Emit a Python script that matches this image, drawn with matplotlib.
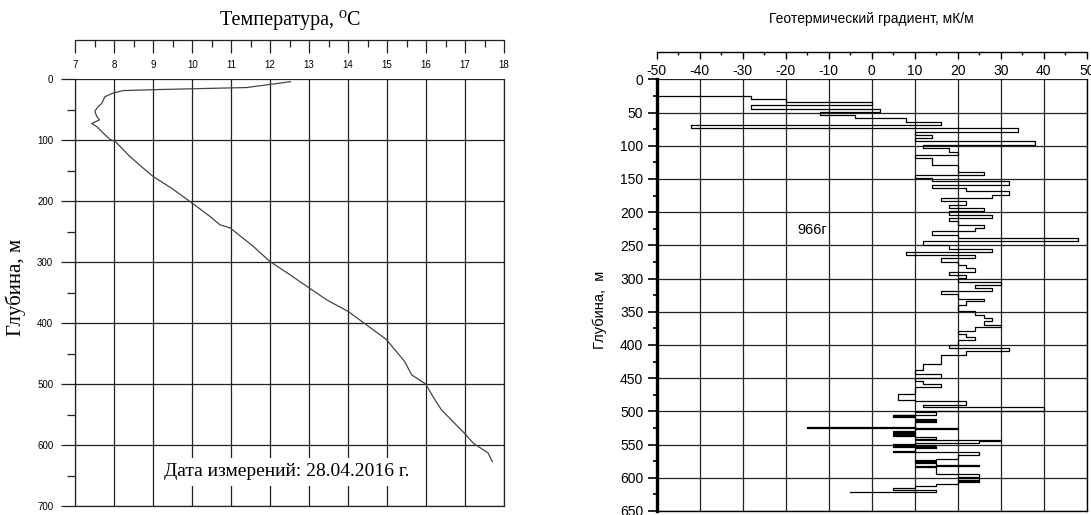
import numpy as np
import matplotlib
matplotlib.use("Agg")
import matplotlib.pyplot as plt
from matplotlib.ticker import MultipleLocator

plt.rcParams['axes.unicode_minus'] = False

# ---------------- data ----------------
# Temperature profile (left chart)
temp_depth = [4.4, 9, 14, 16, 17.5, 19, 23, 29, 40, 45, 53, 61, 67, 73, 78, 89, 99, 102,
              127, 146, 160, 179, 204, 225, 239, 244, 274, 299, 321, 332, 362, 381, 403,
              427, 463, 485, 500, 521, 542, 559, 581, 597, 613, 627]
temp_value = [12.52, 11.99, 11.39, 10.03, 9.0, 8.23, 7.97, 7.76, 7.68, 7.59, 7.50, 7.55, 7.62,
              7.42, 7.55, 7.72, 7.89, 8.02, 8.40, 8.74, 9.0, 9.47, 10.01, 10.45, 10.71, 10.97,
              11.56, 11.99, 12.51, 12.76, 13.45, 14.0, 14.47, 14.98, 15.45, 15.63, 15.99,
              16.18, 16.39, 16.65, 16.99, 17.21, 17.59, 17.70]

# Geothermal gradient (right chart): interval top depths, values, final bottom depth
grad_top = [0, 24.5, 29, 33.5, 38, 44.5, 48.5, 53.5, 59, 64.5,
            68.5, 73.5, 79, 84, 88.5, 93.5, 99, 103.5, 109, 113.5,
            118.5, 128.5, 139, 143.5, 149, 153.5, 159, 164, 168.5, 174,
            179, 183.5, 189, 193.5, 199, 204, 208.5, 214, 219.5, 224.5,
            228.5, 234, 239.5, 244, 249, 255, 259.5, 264.5, 269.5, 274.5,
            279.5, 284.5, 289.5, 294.5, 299.5, 304.5, 309.5, 314.5, 318.5, 323.5,
            330.5, 334.5, 339.5, 349.5, 354.5, 359.5, 364.5, 369.5, 373.5, 378.5,
            383.5, 388.5, 393, 399.5, 404.5, 409.5, 414.5, 429, 437.5, 444,
            449, 454, 459, 464, 474, 483, 485, 490, 494, 499,
            501.5, 505, 506, 507.5, 509, 511, 512.5, 514.5, 516, 523.5,
            524.5, 527, 529, 530.5, 532.5, 534, 536, 537.5, 539, 541,
            543.5, 545, 547, 548.5, 550, 551.5, 553, 554.5, 559, 560.5,
            565, 571, 573, 574.5, 576, 578, 580, 582, 584.5, 595,
            599, 601, 603, 605, 607, 610, 613, 616, 618, 621.5]
grad_value = [-50, -28, -20, 0, -28, 2, -12, -4, 8, 16,
              -42, 34, 10, 14, 10, 38, 12, 18, 20, 10,
              14, 20, 26, 10, 14, 32, 14, 22, 32, 28,
              16, 22, 18, 26, 18, 28, 18, 20, 26, 24,
              14, 20, 48, 12, 18, 28, 8, 24, 16, 20,
              22, 24, 18, 22, 20, 30, 24, 28, 16, 20,
              26, 22, 20, 24, 26, 28, 26, 30, 24, 20,
              22, 24, 20, 18, 32, 22, 16, 12, 10, 16,
              10, 12, 16, 10, 6, 10, 22, 12, 40, 10,
              15, 5, 10, 5, 10, 15, 10, 15, 10, -15,
              20, 10, 5, 10, 5, 10, 5, 10, 15, 10,
              30, 25, 10, 5, 15, 5, 15, 10, 5, 25,
              20, 15, 10, 15, 10, 15, 25, 10, 15, 25,
              20, 25, 20, 25, 20, 15, 10, 5, 15, -5]
grad_bottom = 622

temp_ticks = list(range(7, 19))
depth_ticks_left = list(range(0, 701, 100))
grad_ticks = list(range(-50, 51, 10))
depth_ticks_right = list(range(0, 651, 50))

# ---------------- figure ----------------
W, H = 1091, 515
fig = plt.figure(figsize=(W / 100, H / 100), dpi=100)

def rect(l, t, r, b):
    return [l / W, 1 - b / H, (r - l) / W, (b - t) / H]

SANS = ['Liberation Sans', 'DejaVu Sans']
SERIF = ['Liberation Serif', 'DejaVu Serif']
PX = 0.72  # points per pixel

# ---- left chart ----
ax1 = fig.add_axes(rect(75.3, 79, 504, 506))
ax1.plot(temp_value, temp_depth, color='#444444', lw=0.9)
ax1.set_xlim(7, 18)
ax1.set_ylim(700, 0)
ax1.set_xticks(temp_ticks)
ax1.xaxis.set_minor_locator(MultipleLocator(0.5))
ax1.set_yticks(depth_ticks_left)
ax1.yaxis.set_minor_locator(MultipleLocator(50))
ax1.xaxis.set_ticks_position('top')
ax1.spines['top'].set_position(('outward', 39 * PX))
for s in ax1.spines.values():
    s.set_color('#222222')
    s.set_linewidth(0.9)
ax1.tick_params(axis='x', which='major', direction='in', length=13 * PX, width=0.9,
                color='#222222', pad=-30 * PX, labelsize=7, top=True, bottom=False,
                labeltop=True, labelbottom=False)
ax1.tick_params(axis='x', which='minor', direction='in', length=7 * PX, width=0.9,
                color='#222222', top=True, bottom=False)
ax1.tick_params(axis='y', which='major', direction='out', length=14 * PX, width=0.9,
                color='#222222', pad=8 * PX, labelsize=7)
ax1.tick_params(axis='y', which='minor', direction='out', length=8 * PX, width=0.9,
                color='#222222')
for lab in ax1.get_xticklabels() + ax1.get_yticklabels():
    lab.set_family(SANS)
ax1.grid(True, which='major', color='#222222', lw=0.9)
ax1.set_axisbelow(True)
ax1.text(7 + (287 - 75.3) / 39, (472 - 79) / 0.61, 'Дата измерений: 28.04.2016 г.',
         family=SERIF, fontsize=14, ha='center', va='center',
         bbox=dict(facecolor='white', edgecolor='none', pad=4))

fig.text(290 / W, 1 - 20 / H, 'Температура, \u2070C', family=SERIF, fontsize=14.5,
         ha='center', va='center')
fig.text(16 / W, 1 - 287 / H, 'Глубина, м', family=SERIF, fontsize=15,
         ha='center', va='center', rotation=90)

# ---- right chart ----
ax2 = fig.add_axes(rect(656.7, 79.3, 1086.7, 511))
xs = np.repeat(grad_value, 2)
edges = np.append(grad_top, grad_bottom)
ys = np.column_stack([edges[:-1], edges[1:]]).ravel()
ax2.plot(xs, ys, color='black', lw=0.9)
ax2.set_xlim(-50, 50)
ax2.set_ylim(650, 0)
ax2.set_xticks(grad_ticks)
ax2.xaxis.set_minor_locator(MultipleLocator(5))
ax2.set_yticks(depth_ticks_right)
ax2.yaxis.set_minor_locator(MultipleLocator(25))
ax2.xaxis.set_ticks_position('top')
ax2.spines['top'].set_position(('outward', 27 * PX))
for s in ax2.spines.values():
    s.set_color('black')
    s.set_linewidth(1.0)
ax2.spines['left'].set_linewidth(2.4)
ax2.tick_params(axis='x', which='major', direction='in', length=6.7 * PX, width=1.0,
                pad=-26 * PX, labelsize=10, top=True, bottom=False,
                labeltop=True, labelbottom=False)
ax2.tick_params(axis='x', which='minor', direction='in', length=3.3 * PX, width=1.0,
                top=True, bottom=False)
ax2.tick_params(axis='y', which='major', direction='out', length=9 * PX, width=1.2,
                pad=4.5 * PX, labelsize=10)
ax2.tick_params(axis='y', which='minor', direction='out', length=4 * PX, width=1.2)
for lab in ax2.get_xticklabels() + ax2.get_yticklabels():
    lab.set_family(SANS)
ax2.grid(True, which='major', color='#222222', lw=0.9)
ax2.set_axisbelow(True)
ax2.text(-17.4, 227, '966г', family=SANS, fontsize=10.5, ha='left', va='center')

fig.text(871 / W, 1 - 19 / H, 'Геотермический градиент, мК/м', family=SANS, fontsize=10,
         ha='center', va='center')
fig.text(600 / W, 1 - 310 / H, 'Глубина,  м', family=SANS, fontsize=10.5,
         ha='center', va='center', rotation=90)

fig.savefig('out.png', dpi=100)
